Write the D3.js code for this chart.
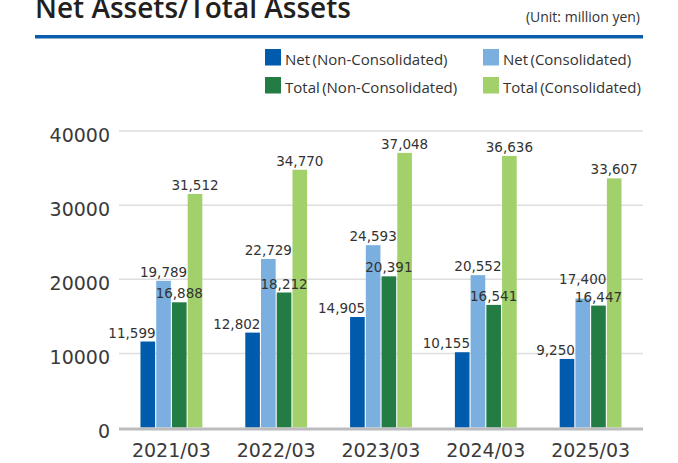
<!DOCTYPE html>
<html>
<head>
<meta charset="utf-8">
<script src="https://cdn.jsdelivr.net/npm/d3@7"></script>
<style>
  html, body { margin: 0; padding: 0; background: #fff; }
  svg { display: block; }
</style>
</head>
<body>
<svg id="chart" width="678" height="463"></svg>
<script>
// ---- data ----
const categories = ["2021/03", "2022/03", "2023/03", "2024/03", "2025/03"];
const seriesNames = ["Net (Non-Consolidated)", "Net (Consolidated)", "Total (Non-Consolidated)", "Total (Consolidated)"];
const netNonConsolidated   = [11599, 12802, 14905, 10155, 9250];
const netConsolidated      = [19789, 22729, 24593, 20552, 17400];
const totalNonConsolidated = [16888, 18212, 20391, 16541, 16447];
const totalConsolidated    = [31512, 34770, 37048, 36636, 33607];
const yTicks = [0, 10000, 20000, 30000, 40000];

const seriesValues = [netNonConsolidated, netConsolidated, totalNonConsolidated, totalConsolidated];
const colors = ["#005bac", "#7aafdf", "#247c45", "#a2d06b"];

const svg = d3.select("#chart");
const plotLeft = 119, plotRight = 643, plotTop = 131, plotBottom = 427.5;

// ---- title ----
svg.append("text")
  .attr("x", 35).attr("y", 18)
  .attr("font-family", "'Open Sans', 'Noto Sans', sans-serif")
  .attr("font-weight", 600)
  .attr("font-size", 28)
  .attr("fill", "#231f20")
  .text("Net Assets/Total Assets");

svg.append("text")
  .attr("x", 640).attr("y", 21.5)
  .attr("text-anchor", "end")
  .attr("font-family", "'Open Sans', 'Noto Sans', sans-serif")
  .attr("font-size", 14)
  .attr("fill", "#333")
  .text("(Unit: million yen)");

svg.append("rect")
  .attr("x", 35).attr("y", 35).attr("width", 608).attr("height", 3.5)
  .attr("fill", "#0a5cad");

// ---- legend ----
const legendPos = [[265, 49], [483, 49], [265, 77], [483, 77]];
const legend = svg.append("g");
seriesNames.forEach((name, i) => {
  const [lx, ly] = legendPos[i];
  legend.append("rect")
    .attr("x", lx).attr("y", ly).attr("width", 16).attr("height", 16.5)
    .attr("fill", colors[i]);
  legend.append("text")
    .attr("x", lx + 20).attr("y", ly + 15.5)
    .attr("font-family", "'Open Sans', 'Noto Sans', sans-serif")
    .attr("font-size", 15)
    .attr("word-spacing", -1.5)
    .attr("fill", "#333")
    .text(name);
});

// ---- scales ----
const x0 = d3.scaleBand().domain(categories).range([plotLeft, plotRight])
  .paddingInner(0.41).paddingOuter(0.205);
const x1 = d3.scaleBand().domain(d3.range(seriesValues.length)).range([0, x0.bandwidth()])
  .paddingInner(0.07).paddingOuter(0);
const y = d3.scaleLinear().domain([0, 40000]).range([plotBottom, plotTop]);

// gridlines
svg.append("g").selectAll("line").data(yTicks.filter(t => t > 0)).join("line")
  .attr("x1", plotLeft).attr("x2", plotRight)
  .attr("y1", d => y(d)).attr("y2", d => y(d))
  .attr("stroke", "#dedede").attr("stroke-width", 1.5);

// y axis labels
const yAxis = d3.axisLeft(y).tickValues(yTicks).tickSize(0).tickPadding(9).tickFormat(d3.format("d"));
const gy = svg.append("g").attr("transform", `translate(${plotLeft},0)`).call(yAxis);
gy.select(".domain").remove();
gy.selectAll("text")
  .attr("font-family", "'DejaVu Sans', sans-serif")
  .attr("font-size", 19)
  .attr("fill", "#3a3a3a")
  .attr("dy", "0.55em");

// bars
const groups = svg.append("g").selectAll("g").data(categories).join("g")
  .attr("transform", d => `translate(${x0(d)},0)`);

groups.selectAll("rect")
  .data((c, ci) => seriesValues.map((s, si) => ({ si, v: s[ci] })))
  .join("rect")
  .attr("x", d => x1(d.si))
  .attr("width", x1.bandwidth())
  .attr("y", d => y(d.v))
  .attr("height", d => y(0) - y(d.v))
  .attr("fill", d => colors[d.si]);

// baseline
svg.append("line")
  .attr("x1", plotLeft).attr("x2", plotRight)
  .attr("y1", plotBottom + 1.5).attr("y2", plotBottom + 1.5)
  .attr("stroke", "#bcbcbf").attr("stroke-width", 3);

// x axis labels
const xAxis = d3.axisBottom(x0).tickSize(0).tickPadding(0);
const gx = svg.append("g").attr("transform", `translate(0,${plotBottom})`).call(xAxis);
gx.select(".domain").remove();
gx.selectAll("text")
  .attr("font-family", "'DejaVu Sans', sans-serif")
  .attr("font-size", 19)
  .attr("fill", "#3a3a3a")
  .attr("dy", 0)
  .attr("y", 29);

// value labels
const fmt = d3.format(",");
const labelLayer = svg.append("g");
categories.forEach((c, ci) => {
  const nodes = [];
  seriesValues.forEach((s, si) => {
    const v = s[ci];
    const bx = x0(c) + x1(si);
    const anchorEnd = si === 0;
    const t = labelLayer.append("text")
      .attr("x", anchorEnd ? bx + x1.bandwidth() + 0.5 : bx + x1.bandwidth() / 2)
      .attr("y", y(v) - 4)
      .attr("text-anchor", anchorEnd ? "end" : "middle")
      .attr("font-family", "'DejaVu Sans', sans-serif")
      .attr("font-size", 13.5)
      .attr("fill", "#333")
      .text(fmt(v));
    nodes.push(t);
  });
  // simple collision avoidance: raise a label above the next one if they overlap
  for (let i = nodes.length - 2; i >= 0; i--) {
    const a = nodes[i].node().getBBox();
    const b = nodes[i + 1].node().getBBox();
    const overlapX = a.x < b.x + b.width && b.x < a.x + a.width;
    const overlapY = a.y < b.y + b.height && b.y < a.y + a.height;
    if (overlapX && overlapY) {
      const cur = +nodes[i].attr("y");
      const shift = (a.y + a.height) - b.y + 2;
      nodes[i].attr("y", cur - shift);
    }
  }
});
</script>
</body>
</html>
